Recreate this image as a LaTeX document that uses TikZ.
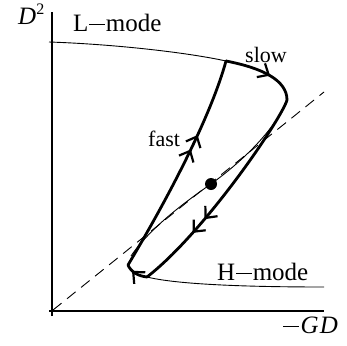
\documentclass[tikz,border=0pt]{standalone}
\usepackage{fontspec}
\setmainfont{Liberation Serif}
\usetikzlibrary{arrows.meta,decorations.markings}
\newcommand{\mminus}{\rule[0.25em]{0.62em}{0.05em}}
\tikzset{
  lbl/.style={inner sep=0pt, anchor=base west, font=\fontsize{25}{25}\selectfont},
  smalllbl/.style={inner sep=0pt, anchor=base west, font=\fontsize{22}{22}\selectfont},
  axis/.style={line width=1.2pt},
  thinline/.style={line width=0.9pt},
  thickline/.style={line width=2.8pt, line cap=round, line join=round},
  mybarb/.tip={Straight Barb[length=9pt, width=16pt, line width=2.2pt]},
  arrat/.style={postaction={decorate, decoration={markings, mark=at position #1 with {\arrow{mybarb}}}}},
}
\begin{document}
\begin{tikzpicture}[x=1pt, y=-1pt]
\useasboundingbox (0,0) rectangle (347,345);
% coordinates
\coordinate (ytop) at (52,12);
\coordinate (ybot) at (52,316);
\coordinate (xl) at (49,311);
\coordinate (xr) at (324,311);
\coordinate (Ls) at (49,42);
\coordinate (J) at (226,61);
\coordinate (C) at (287,100);
\coordinate (B) at (147,277);
\coordinate (T) at (128,265);
\coordinate (He) at (324,287);
\coordinate (ds) at (53,310);
\coordinate (de) at (324,92);
\coordinate (sp1) at (131,256);
\coordinate (sp2) at (286,104);
% axes
\draw[axis] (ybot) -- (ytop);
\draw[axis] (xl) -- (xr);
% dashed diagonal
\draw[thinline, dash pattern=on 11pt off 7pt] (ds) -- (de);
% L-mode and H-mode branches
\draw[thinline] (Ls) .. controls (110,44) and (185,52) .. (J);
\draw[thinline] (B) .. controls (175,284) and (240,287) .. (He);
% thin spiral through fixed point
\node[circle, fill=black, minimum size=12pt, inner sep=0pt] (fp) at (211,184) {};
\draw[thinline] (sp1) .. controls (150,228) and (185,202) .. (fp.center)
   .. controls (240,163) and (270,135) .. (sp2);
% thick cycle
\draw[thickline, arrat=0.6] (J) .. controls (262,68) and (287,80) .. (C);
\draw[thickline, arrat=0.64, arrat=0.72] (C) .. controls (282,118) and (205,232) .. (B);
\draw[thickline, arrat=0.7] (B) .. controls (138,276) and (131,272) .. (T);
\draw[thickline, arrat=0.58, arrat=0.65] (T) .. controls (174,188) and (212,112) .. (J);
% labels
\node[lbl] (dlab) at (18,25) {\textit{D}\raisebox{0.42em}{\fontsize{16}{16}\selectfont 2}};
\node[lbl] (lmode) at (73,31.7) {L\kern1pt\mminus\kern1pt mode};
\node[smalllbl] (slow) at (245,62.3) {slow};
\node[smalllbl] (fast) at (148,146) {fast};
\node[lbl] (hmode) at (217,280.3) {H\kern1pt\mminus\kern1pt mode};
\node[lbl] (gd) at (283,333) {\mminus\kern2pt\textit{G\kern1ptD}};
\end{tikzpicture}
\end{document}
